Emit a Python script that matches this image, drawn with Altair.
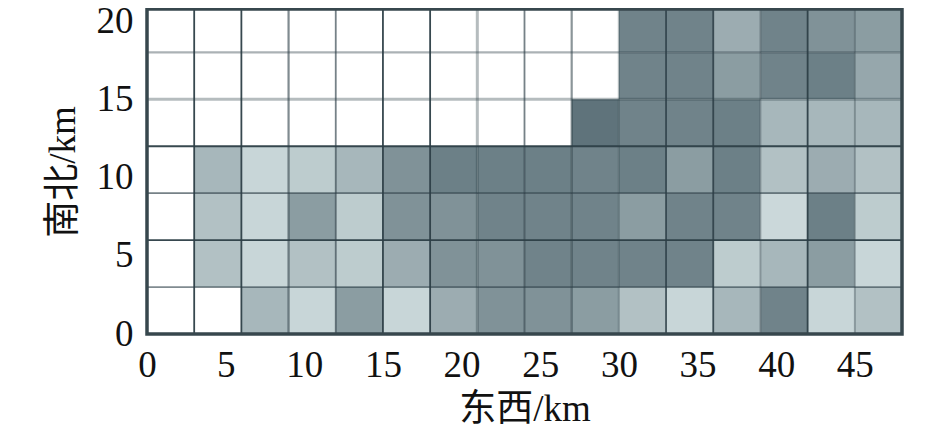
import altair as alt
import pandas as pd

# shade level per cell; top row first (18-21 km) down to bottom row (0-3 km)
rows = [
    [0,0,0,0,0,0,0,0,0,0,9,9,5,9,7.5,6.5],
    [0,0,0,0,0,0,0,0,0,0,9,9,6.5,9,9.3,5.5],
    [0,0,0,0,0,0,0,0,0,10.5,9,9,9.3,4,4,4],
    [0,4,1,2,4,7.5,9.3,9.3,9.3,9,9.3,6.5,9.3,3,5,3],
    [0,3,1,6.5,2,7.5,7.5,9,9,9,6.5,9,9,0.8,9.3,2],
    [0,3,1,3,2,5,7.5,7.5,9,9,9,9,2,4,6.5,1],
    [0,0,4,1,6.5,1,5,7.5,7.5,6.5,3,1,4,9,1,3],
]
x_ticks = [0,5,10,15,20,25,30,35,40,45]
y_ticks = [0,5,10,15,20]
v_pos = [3,6,9,12,15,18,21,24,27,30,33,36,39,42,45]
v_op  = [.95,.95,.6,.65,.95,.95,.35,.65,.55,.3,.85,.9,.4,.95,.4]
v_w   = [1.8,1.8,2.2,1.8,1.8,1.8,3,1.8,2.2,2.2,1.8,1.8,1.8,1.8,1.8]
h_pos = [3,6,9,12,15,18]
h_op  = [.6,.95,.65,.95,.35,.4]
h_w   = [1.8,1.8,1.8,1.8,3,2.2]
y_top = 20.77

cells = pd.DataFrame([
    {"x": c*3, "x2": c*3+3, "y": (6-r)*3, "y2": min((6-r)*3+3, y_top), "v": v}
    for r, row in enumerate(rows) for c, v in enumerate(row)
])
xs = alt.Scale(domain=[0,48], nice=False, zero=False)
ys = alt.Scale(domain=[0,y_top], nice=False, zero=False)
FONT = "Liberation Serif, Noto Sans CJK SC"

rect = alt.Chart(cells).mark_rect(strokeWidth=0).encode(
    x=alt.X("x:Q", scale=xs, axis=alt.Axis(values=x_ticks, title="东西/km", domain=False, ticks=False,
            grid=False, labelFontSize=37, labelPadding=13, labelFlush=False, labelColor="#111", labelAngle=0,
            titleFontSize=37, titleFont=FONT, titleFontWeight="normal", titleColor="#111", titlePadding=8)),
    x2="x2:Q",
    y=alt.Y("y:Q", scale=ys, axis=alt.Axis(values=y_ticks, title="南北/km", domain=False, ticks=False,
            grid=False, labelFontSize=37, labelPadding=14, labelFlush=False, labelColor="#111",
            titleFontSize=37, titleFont=FONT, titleFontWeight="normal", titleColor="#111", titlePadding=14)),
    y2="y2:Q",
    color=alt.Color("v:Q", legend=None, scale=alt.Scale(domain=[0,0.5,1,10.5], interpolate="rgb",
                    range=["#ffffff","#d0dcde","#c8d6d8","#5f737b"])),
)
vr = alt.Chart(pd.DataFrame({"x": v_pos, "o": v_op, "w": v_w})).mark_rule(color="#2c3e46").encode(
    x=alt.X("x:Q", scale=xs),
    opacity=alt.Opacity("o:Q", scale=None), strokeWidth=alt.StrokeWidth("w:Q", scale=None))
hr = alt.Chart(pd.DataFrame({"y": h_pos, "o": h_op, "w": h_w})).mark_rule(color="#2c3e46").encode(
    y=alt.Y("y:Q", scale=ys),
    opacity=alt.Opacity("o:Q", scale=None), strokeWidth=alt.StrokeWidth("w:Q", scale=None))
frame = alt.Chart(pd.DataFrame({"x":[0],"x2":[48],"y":[0],"y2":[y_top]})).mark_rect(
    fillOpacity=0, stroke="#37474d", strokeWidth=3.5).encode(
    x=alt.X("x:Q", scale=xs), x2="x2:Q", y=alt.Y("y:Q", scale=ys), y2="y2:Q")

chart = (rect + vr + hr + frame).properties(width=755, height=325,
        autosize=alt.AutoSizeParams(type="none"),
        padding={"left":139,"top":1,"right":30,"bottom":95}
    ).configure_view(stroke=None
    ).configure_axis(labelFont=FONT)
chart.save("out.html", embed_options={"renderer": "svg", "actions": False})
